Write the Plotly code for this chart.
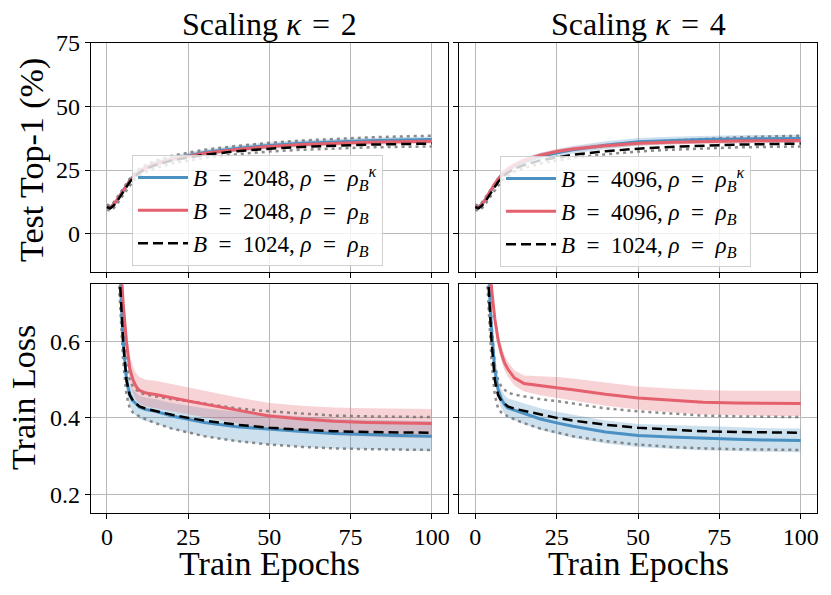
import plotly.graph_objects as go
from plotly.subplots import make_subplots

epochs = [0, 1, 2, 3, 4, 5, 6, 7, 8, 9, 10, 12, 15, 20, 25, 30, 40, 50, 60, 70, 80, 90, 100]

# ---- test top-1 accuracy (%) ----
acc_base = [10.5, 10.0, 11.0, 12.5, 14.5, 16.5, 18.5, 20.3, 21.8, 23.0, 24.0, 25.5, 27.0, 28.8, 30.0, 31.0, 32.4, 33.4, 34.1, 34.6, 35.0, 35.2, 35.4]
acc_base_hi = [11.5, 11.0, 12.2, 13.8, 15.8, 17.8, 19.8, 21.6, 23.2, 24.4, 25.5, 27.1, 28.7, 30.6, 31.9, 33.0, 34.5, 35.7, 36.6, 37.3, 37.8, 38.2, 38.5]
acc_base_lo = [9.5, 9.0, 10.0, 11.4, 13.4, 15.3, 17.3, 19.1, 20.6, 21.8, 22.8, 24.3, 25.8, 27.6, 28.8, 29.8, 31.2, 32.3, 33.0, 33.5, 33.9, 34.1, 34.3]

acc_k2_sam = [10.8, 10.3, 11.5, 13.0, 15.0, 17.0, 19.0, 20.8, 22.3, 23.5, 24.5, 26.0, 27.6, 29.4, 30.8, 31.9, 33.5, 34.7, 35.5, 36.1, 36.5, 36.8, 37.0]
acc_k2_sam_sd = [0.8, 0.8, 0.9, 1.0, 1.0, 1.1, 1.1, 1.1, 1.2, 1.2, 1.2, 1.2, 1.2, 1.2, 1.2, 1.2, 1.2, 1.2, 1.2, 1.2, 1.2, 1.2, 1.2]
acc_k2_sgd = [10.6, 10.2, 11.3, 12.9, 14.9, 16.9, 18.9, 20.7, 22.2, 23.4, 24.4, 25.9, 27.4, 29.2, 30.5, 31.6, 33.1, 34.3, 35.0, 35.5, 35.9, 36.1, 36.3]
acc_k2_sgd_sd = [0.7, 0.7, 0.8, 0.8, 0.9, 0.9, 0.9, 0.9, 0.9, 0.9, 0.9, 0.9, 0.9, 0.9, 0.9, 0.9, 0.9, 0.9, 0.9, 0.9, 0.9, 0.9, 0.9]

acc_k4_sam = [10.8, 10.4, 11.6, 13.2, 15.3, 17.4, 19.4, 21.2, 22.7, 23.9, 25.0, 26.6, 28.3, 30.3, 31.8, 33.0, 34.8, 36.1, 36.6, 37.0, 37.2, 37.3, 37.4]
acc_k4_sam_sd = [0.9, 0.9, 1.0, 1.1, 1.2, 1.3, 1.3, 1.4, 1.4, 1.4, 1.5, 1.5, 1.5, 1.5, 1.5, 1.5, 1.5, 1.5, 1.5, 1.5, 1.5, 1.5, 1.5]
acc_k4_sgd = [10.7, 10.3, 11.5, 13.2, 15.4, 17.6, 19.6, 21.4, 23.0, 24.3, 25.4, 27.0, 28.8, 30.8, 32.3, 33.3, 34.6, 35.5, 35.9, 36.2, 36.4, 36.5, 36.6]
acc_k4_sgd_sd = [0.7, 0.7, 0.8, 0.8, 0.9, 0.9, 0.9, 0.9, 0.9, 0.9, 0.9, 0.9, 0.9, 0.9, 0.9, 0.9, 0.9, 0.9, 0.9, 0.9, 0.9, 0.9, 0.9]

# ---- train loss ----
loss_base = [2.0, 1.5, 1.15, 0.92, 0.76, 0.60, 0.50, 0.46, 0.445, 0.437, 0.43, 0.424, 0.418, 0.408, 0.40, 0.393, 0.382, 0.374, 0.369, 0.365, 0.363, 0.362, 0.361]
loss_base_hi = [2.1, 1.6, 1.22, 0.98, 0.81, 0.65, 0.54, 0.50, 0.482, 0.473, 0.466, 0.461, 0.456, 0.449, 0.444, 0.437, 0.425, 0.417, 0.411, 0.406, 0.404, 0.403, 0.402]
loss_base_lo = [1.9, 1.4, 1.08, 0.86, 0.71, 0.55, 0.46, 0.425, 0.414, 0.408, 0.404, 0.396, 0.386, 0.372, 0.361, 0.352, 0.339, 0.330, 0.324, 0.320, 0.318, 0.317, 0.316]

loss_k2_sam = [2.0, 1.5, 1.15, 0.93, 0.78, 0.60, 0.50, 0.462, 0.445, 0.435, 0.428, 0.422, 0.417, 0.405, 0.396, 0.388, 0.377, 0.370, 0.364, 0.359, 0.356, 0.354, 0.352]
loss_k2_sam_sd = [0.05, 0.05, 0.04, 0.035, 0.03, 0.03, 0.03, 0.03, 0.03, 0.03, 0.03, 0.031, 0.032, 0.034, 0.035, 0.037, 0.039, 0.04, 0.04, 0.039, 0.039, 0.039, 0.039]
loss_k2_sgd = [2.1, 1.6, 1.25, 1.0, 0.84, 0.70, 0.60, 0.53, 0.50, 0.482, 0.472, 0.465, 0.461, 0.452, 0.444, 0.436, 0.42, 0.405, 0.397, 0.391, 0.388, 0.386, 0.385]
loss_k2_sgd_sd = [0.05, 0.05, 0.04, 0.04, 0.035, 0.035, 0.035, 0.035, 0.035, 0.035, 0.035, 0.035, 0.036, 0.036, 0.036, 0.035, 0.034, 0.034, 0.035, 0.036, 0.037, 0.038, 0.038]

loss_k4_sam = [2.0, 1.5, 1.15, 0.92, 0.79, 0.63, 0.526, 0.475, 0.45, 0.435, 0.426, 0.42, 0.41, 0.397, 0.387, 0.378, 0.363, 0.354, 0.35, 0.346, 0.344, 0.342, 0.341]
loss_k4_sam_sd = [0.04, 0.04, 0.03, 0.03, 0.025, 0.025, 0.025, 0.025, 0.025, 0.025, 0.025, 0.026, 0.027, 0.028, 0.029, 0.03, 0.03, 0.03, 0.031, 0.031, 0.031, 0.031, 0.031]
loss_k4_sgd = [2.2, 1.7, 1.35, 1.08, 0.88, 0.74, 0.66, 0.605, 0.57, 0.544, 0.528, 0.505, 0.49, 0.484, 0.479, 0.474, 0.462, 0.452, 0.446, 0.441, 0.439, 0.438, 0.438]
loss_k4_sgd_sd = [0.04, 0.04, 0.03, 0.025, 0.02, 0.02, 0.02, 0.02, 0.02, 0.02, 0.02, 0.02, 0.021, 0.025, 0.028, 0.029, 0.03, 0.03, 0.031, 0.032, 0.032, 0.033, 0.033]

EQ = "\u2002=\u2002"       # legend spacing
EQ_T = "\u2004=\u2004"     # title spacing
panel_titles = [f"Scaling <i>κ</i>{EQ_T}2", f"Scaling <i>κ</i>{EQ_T}4"]
batch_sizes = [2048, 4096]
base_batch = 1024

BLUE = "#4a90c2"
RED = "#e5606d"
BLUE_FILL = "rgba(74,144,194,0.28)"
RED_FILL = "rgba(229,96,109,0.28)"
FONT = "Liberation Serif"

# page body has an 8px margin, so the figure is 16px smaller than the window
W, H = 815, 579


def px(x):
    return (x - 8) / W


def py(y):
    return 1 - (y - 8) / H


fig = make_subplots(rows=2, cols=2)


def band(mean, sd, fill, row, col):
    up = [m + s for m, s in zip(mean, sd)]
    lo = [m - s for m, s in zip(mean, sd)]
    fig.add_trace(go.Scatter(x=epochs + epochs[::-1], y=up + lo[::-1], fill="toself",
                             fillcolor=fill, line=dict(width=0), mode="lines",
                             showlegend=False, hoverinfo="skip"), row=row, col=col)


def panel(row, col, base, base_hi, base_lo, sam, sam_sd, sgd, sgd_sd, show_leg):
    leg = "legend" if col == 1 else "legend2"
    B = batch_sizes[col - 1]
    band(sam, sam_sd, BLUE_FILL, row, col)
    band(sgd, sgd_sd, RED_FILL, row, col)
    for edge in (base_hi, base_lo):
        fig.add_trace(go.Scatter(x=epochs, y=edge, mode="lines",
                                 line=dict(color="rgba(110,110,110,0.8)", width=2.5, dash="3px,4px"),
                                 showlegend=False, hoverinfo="skip"), row=row, col=col)
    fig.add_trace(go.Scatter(x=epochs, y=sam, mode="lines", line=dict(color=BLUE, width=3),
                             name=f"<i>B</i>{EQ}{B}, <i>ρ</i>{EQ}<i>ρ</i><sub><i>B</i></sub><sup><i>κ</i></sup>",
                             legend=leg, showlegend=show_leg), row=row, col=col)
    fig.add_trace(go.Scatter(x=epochs, y=sgd, mode="lines", line=dict(color=RED, width=3),
                             name=f"<i>B</i>{EQ}{B}, <i>ρ</i>{EQ}<i>ρ</i><sub><i>B</i></sub>",
                             legend=leg, showlegend=show_leg), row=row, col=col)
    fig.add_trace(go.Scatter(x=epochs, y=base, mode="lines",
                             line=dict(color="black", width=2.5, dash="10px,5px"),
                             name=f"<i>B</i>{EQ}{base_batch}, <i>ρ</i>{EQ}<i>ρ</i><sub><i>B</i></sub>",
                             legend=leg, showlegend=show_leg), row=row, col=col)


panel(1, 1, acc_base, acc_base_hi, acc_base_lo, acc_k2_sam, acc_k2_sam_sd, acc_k2_sgd, acc_k2_sgd_sd, True)
panel(1, 2, acc_base, acc_base_hi, acc_base_lo, acc_k4_sam, acc_k4_sam_sd, acc_k4_sgd, acc_k4_sgd_sd, True)
panel(2, 1, loss_base, loss_base_hi, loss_base_lo, loss_k2_sam, loss_k2_sam_sd, loss_k2_sgd, loss_k2_sgd_sd, False)
panel(2, 2, loss_base, loss_base_hi, loss_base_lo, loss_k4_sam, loss_k4_sam_sd, loss_k4_sgd, loss_k4_sgd_sd, False)

xdom = [[px(90.7), px(448)], [px(459), px(817)]]
ydom = [[py(272), py(42.7)], [py(513.3), py(284.3)]]

axis_style = dict(showline=True, linecolor="black", linewidth=1, mirror=True,
                  ticks="outside", ticklen=5, tickcolor="black", showgrid=True,
                  gridcolor="#b8b8b8", gridwidth=1, zeroline=False, automargin=False,
                  tickfont=dict(family=FONT, size=24, color="black"))

for r in (1, 2):
    for c in (1, 2):
        fig.update_xaxes(axis_style, domain=xdom[c - 1], range=[-5, 105],
                         tickvals=[0, 25, 50, 75, 100], showticklabels=(r == 2),
                         ticklabelstandoff=-3, row=r, col=c)
        if r == 1:
            fig.update_yaxes(axis_style, domain=ydom[0], range=[-15, 75],
                             tickvals=[0, 25, 50, 75], showticklabels=(c == 1), row=r, col=c)
        else:
            fig.update_yaxes(axis_style, domain=ydom[1], range=[0.15, 0.75],
                             tickvals=[0.2, 0.4, 0.6], tickformat=".1f",
                             showticklabels=(c == 1), row=r, col=c)

leg_style = dict(xanchor="left", yanchor="top", bgcolor="rgba(255,255,255,0.8)",
                 bordercolor="#d0d0d0", borderwidth=1, itemwidth=50,
                 font=dict(family=FONT, size=23, color="black"))

fig.update_layout(
    width=W, height=H, margin=dict(l=0, r=0, t=0, b=0, autoexpand=False),
    plot_bgcolor="white", paper_bgcolor="white",
    legend=dict(leg_style, x=px(132), y=py(155)),
    legend2=dict(leg_style, x=px(500), y=py(156)),
)

title_font = dict(family=FONT, size=32, color="black")
label_font = dict(family=FONT, size=34, color="black")
for c in (0, 1):
    xc = (xdom[c][0] + xdom[c][1]) / 2
    fig.add_annotation(text=panel_titles[c], x=xc, y=py(24), xref="paper", yref="paper",
                       xanchor="center", yanchor="middle", showarrow=False, font=title_font)
    fig.add_annotation(text="Train Epochs", x=xc, y=py(563), xref="paper", yref="paper",
                       xanchor="center", yanchor="middle", showarrow=False, font=label_font)
fig.add_annotation(text="Test Top-1 (%)", x=px(32), y=py(160), xref="paper", yref="paper",
                   xanchor="center", yanchor="middle", textangle=-90, showarrow=False, font=label_font)
fig.add_annotation(text="Train Loss", x=px(24), y=py(398), xref="paper", yref="paper",
                   xanchor="center", yanchor="middle", textangle=-90, showarrow=False, font=label_font)

fig.write_html("out.html")
